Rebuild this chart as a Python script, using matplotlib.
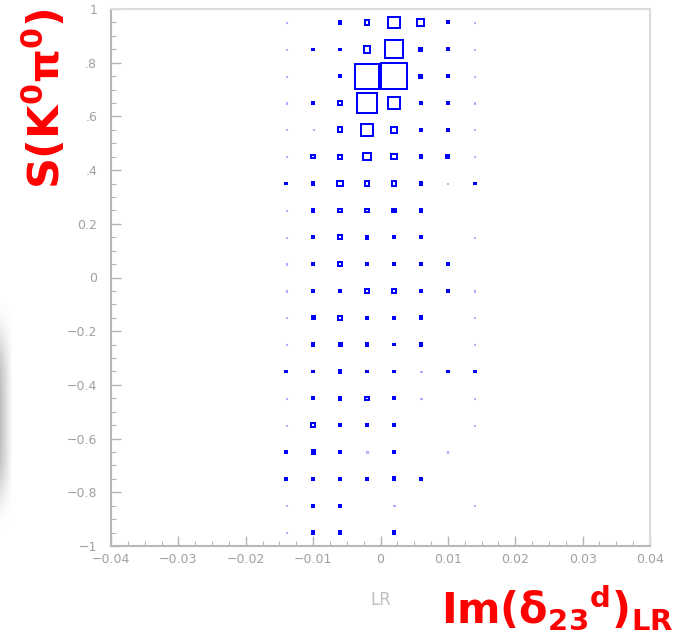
import numpy as np
import matplotlib
matplotlib.use("Agg")
import matplotlib.pyplot as plt
from matplotlib.patches import Rectangle
from matplotlib.ticker import MultipleLocator, FixedLocator

# ---- data -------------------------------------------------------------
x_centers = [-0.014, -0.010, -0.006, -0.002, 0.002, 0.006, 0.010, 0.014]
y_centers = [0.95, 0.85, 0.75, 0.65, 0.55, 0.45, 0.35, 0.25, 0.15, 0.05,
             -0.05, -0.15, -0.25, -0.35, -0.45, -0.55, -0.65, -0.75, -0.85, -0.95]
# bin content (relative to maximum), one row per y bin, columns follow x_centers
counts = [
    [0.03, 0.00, 0.15, 0.22, 0.47, 0.31, 0.13, 0.03],
    [0.03, 0.10, 0.11, 0.31, 0.72, 0.17, 0.13, 0.03],
    [0.03, 0.00, 0.13, 0.98, 1.00, 0.17, 0.13, 0.03],
    [0.03, 0.10, 0.18, 0.83, 0.52, 0.13, 0.15, 0.03],
    [0.03, 0.05, 0.23, 0.48, 0.27, 0.10, 0.12, 0.03],
    [0.04, 0.19, 0.20, 0.32, 0.25, 0.15, 0.17, 0.04],
    [0.10, 0.15, 0.27, 0.22, 0.22, 0.14, 0.04, 0.10],
    [0.03, 0.15, 0.19, 0.18, 0.17, 0.15, 0.00, 0.00],
    [0.03, 0.13, 0.19, 0.16, 0.15, 0.14, 0.00, 0.03],
    [0.03, 0.15, 0.19, 0.16, 0.16, 0.13, 0.12, 0.00],
    [0.03, 0.14, 0.14, 0.20, 0.20, 0.14, 0.12, 0.03],
    [0.03, 0.17, 0.19, 0.13, 0.15, 0.16, 0.00, 0.03],
    [0.03, 0.15, 0.17, 0.14, 0.12, 0.14, 0.00, 0.03],
    [0.12, 0.12, 0.16, 0.12, 0.12, 0.04, 0.12, 0.12],
    [0.03, 0.13, 0.16, 0.18, 0.12, 0.04, 0.00, 0.03],
    [0.03, 0.18, 0.13, 0.15, 0.12, 0.00, 0.00, 0.03],
    [0.12, 0.17, 0.14, 0.04, 0.12, 0.00, 0.04, 0.00],
    [0.12, 0.13, 0.15, 0.12, 0.16, 0.12, 0.00, 0.00],
    [0.03, 0.14, 0.14, 0.00, 0.03, 0.00, 0.00, 0.03],
    [0.03, 0.14, 0.15, 0.00, 0.14, 0.00, 0.00, 0.00],
]
bin_w = 0.004
bin_h = 0.1
x_ticks = [-0.04, -0.03, -0.02, -0.01, 0.0, 0.01, 0.02, 0.03, 0.04]
x_tick_labels = ["\u22120.04", "\u22120.03", "\u22120.02", "\u22120.01", "0",
                 "0.01", "0.02", "0.03", "0.04"]
y_ticks = [-1.0, -0.8, -0.6, -0.4, -0.2, 0.0, 0.2, 0.4, 0.6, 0.8, 1.0]
y_tick_labels = ["\u22121", "\u22120.8", "\u22120.6", "\u22120.4", "\u22120.2", "0",
                 "0.2", ".4", ".6", ".8", "1"]

# ---- figure -----------------------------------------------------------
W, H = 685, 634
fig = plt.figure(figsize=(W / 100, H / 100), dpi=100)
fig.patch.set_facecolor("white")

# faint shadow at the left edge (decoration)
sh = fig.add_axes([0, 1 - 550 / H, 14 / W, 270 / H])
gy = np.linspace(-1, 1, 200)[:, None]
gx = np.linspace(0, 1, 20)[None, :]
shade = np.exp(-(gy / 0.6) ** 4) * np.clip(1 - gx * 1.1, 0, 1)
sh.imshow(1 - 0.25 * shade, cmap="gray", vmin=0, vmax=1, aspect="auto",
          interpolation="bilinear")
sh.axis("off")

L, R, T, B = 111, 650, 9, 546
ax = fig.add_axes([L / W, 1 - B / H, (R - L) / W, (B - T) / H])
ax.set_xlim(-0.04, 0.04)
ax.set_ylim(-1, 1)

px_x = (R - L) / 0.08
px_y = (B - T) / 2.0
lw_px = 2.0
for j, yc in enumerate(y_centers):
    for i, xc in enumerate(x_centers):
        v = counts[j][i]
        if v <= 0:
            continue
        if v < 0.06:
            side = 1.2
            col, lw, fill = "#a9a9ff", 0.8, False
        else:
            side = max(v * bin_w * px_x - 1.5, 1.5)
            col, lw = "#0000ff", lw_px * 72 / 100
            fill = side < 3.2
        w = side / px_x
        h = side / px_y
        ax.add_patch(Rectangle((xc - w / 2, yc - h / 2), w, h, fill=fill,
                               facecolor=col, edgecolor=col, linewidth=lw,
                               joinstyle="miter"))

ax.xaxis.set_major_locator(FixedLocator(x_ticks))
ax.set_xticklabels(x_tick_labels)
ax.xaxis.set_minor_locator(MultipleLocator(0.0025))
ax.yaxis.set_major_locator(FixedLocator(y_ticks))
ax.set_yticklabels(y_tick_labels)
ax.yaxis.set_minor_locator(MultipleLocator(0.05))

tick_c = "#b4b4b4"
ax.tick_params(axis="both", which="both", direction="in", color=tick_c,
               labelcolor="#a0a0a0", labelsize=9, top=False, right=False)
ax.tick_params(axis="both", which="major", length=7, width=1)
ax.tick_params(axis="both", which="minor", length=3.5, width=0.8)
ax.tick_params(axis="y", which="major", pad=10)
ax.tick_params(axis="x", which="major", pad=5)
for s in ["left", "bottom"]:
    ax.spines[s].set_color("#b8b8b8")
    ax.spines[s].set_linewidth(1.5)
for s in ["top", "right"]:
    ax.spines[s].set_color("#dcdcdc")
    ax.spines[s].set_linewidth(1.5)

# residual axis title
fig.text(381 / W, 1 - 600 / H, "LR", color="#c0c0c0", fontsize=12,
         ha="center", va="center")

plt.rcParams["mathtext.fontset"] = "custom"
plt.rcParams["mathtext.rm"] = "DejaVu Sans:bold"
plt.rcParams["mathtext.it"] = "DejaVu Sans:bold"
plt.rcParams["mathtext.bf"] = "DejaVu Sans:bold"

fig.text(674 / W, 1 - 632 / H, r"$\mathrm{Im(\delta_{23}{}^{d})_{LR}}$",
         color="red", fontsize=30, fontweight="bold", ha="right", va="bottom")
fig.text(45 / W, 1 - 8 / H, r"$\mathrm{S(K^{0}\pi^{0})}$",
         color="red", fontsize=31, fontweight="bold", rotation=90,
         ha="center", va="top")

fig.savefig("out.png", dpi=100)
